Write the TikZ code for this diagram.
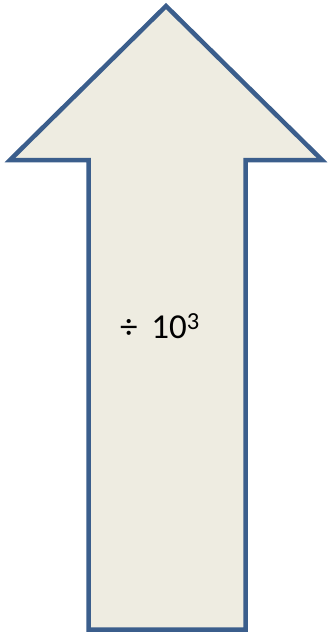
\documentclass[tikz,border=0pt]{standalone}
\usepackage{fontspec}
\setmainfont{Carlito}
\definecolor{arrowfill}{HTML}{EEECE1}
\definecolor{arrowline}{HTML}{3B5E8C}
\begin{document}
\begin{tikzpicture}[
    x=1pt, y=-1pt,
    bigarrow/.style={draw=arrowline, fill=arrowfill, line width=4.5pt, line join=miter},
    label/.style={font=\fontsize{35}{42}\selectfont, inner sep=0pt}
]
\useasboundingbox (0,0) rectangle (328,632);
% Arrow pointing up
\draw[bigarrow] (166,6) -- (322,160) -- (245.5,160) -- (245.5,629.5)
    -- (88.5,629.5) -- (88.5,160) -- (10,160) -- cycle;

\node[label] (factor) at (160,326) {÷\, 10\textsuperscript{3}};
\end{tikzpicture}
\end{document}
